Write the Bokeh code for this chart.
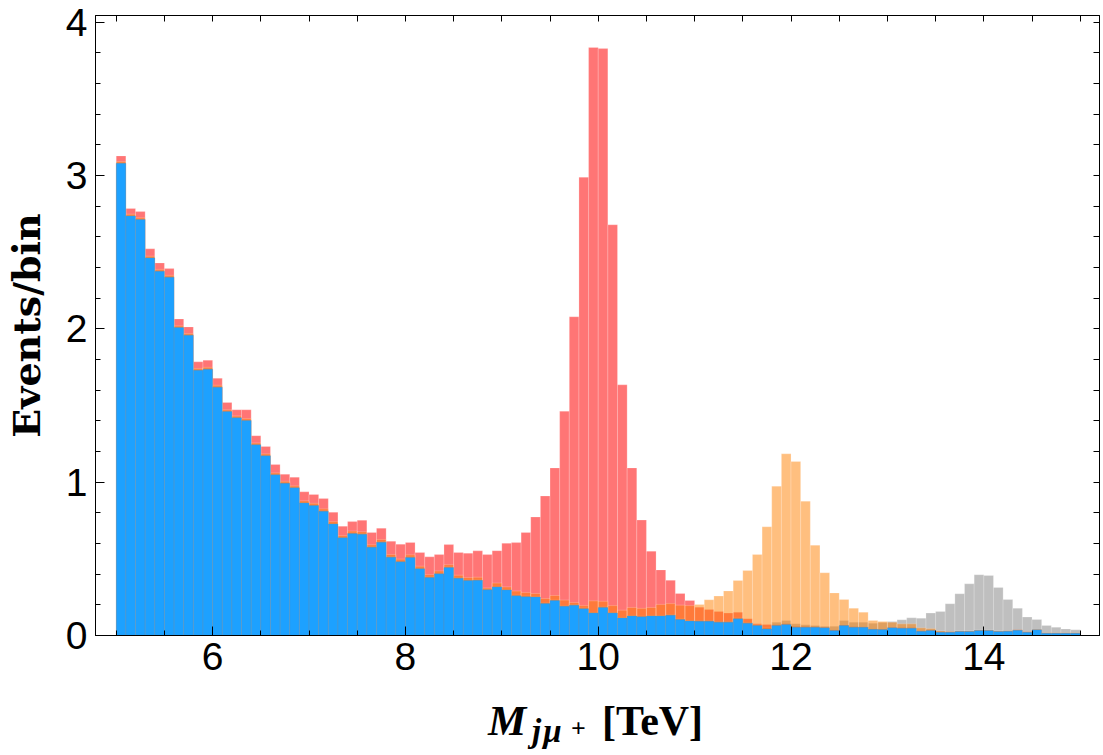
import numpy as np
from bokeh.plotting import figure
from bokeh.models import FixedTicker, LinearAxis, ColumnDataSource, Div
from bokeh.layouts import column
from bokeh.embed import file_html
from bokeh.resources import INLINE

# ---- data: events per 0.1 TeV bin, 5 -> 15 TeV (overlaid histograms, totals incl. background)
bin_lo = 5.0
bin_w = 0.1
n_bins = 100

background = [3.080, 2.737, 2.713, 2.463, 2.376, 2.337, 2.009, 1.959, 1.730, 1.737,
              1.620, 1.461, 1.420, 1.402, 1.244, 1.172, 1.048, 0.993, 0.963, 0.865,
              0.848, 0.811, 0.728, 0.637, 0.665, 0.661, 0.576, 0.609, 0.511, 0.481,
              0.509, 0.435, 0.378, 0.402, 0.443, 0.374, 0.359, 0.360, 0.298, 0.317,
              0.297, 0.259, 0.253, 0.251, 0.208, 0.228, 0.190, 0.198, 0.175, 0.147,
              0.183, 0.147, 0.114, 0.127, 0.122, 0.127, 0.127, 0.132, 0.104, 0.094,
              0.093, 0.093, 0.087, 0.087, 0.109, 0.080, 0.065, 0.043, 0.065, 0.072,
              0.054, 0.054, 0.054, 0.050, 0.033, 0.065, 0.054, 0.054, 0.040, 0.039,
              0.050, 0.048, 0.048, 0.028, 0.033, 0.022, 0.022, 0.026, 0.026, 0.033,
              0.033, 0.026, 0.028, 0.035, 0.022, 0.037, 0.015, 0.015, 0.015, 0.015]

signal_10 = [3.128, 2.785, 2.765, 2.522, 2.430, 2.393, 2.065, 2.013, 1.785, 1.796,
             1.678, 1.520, 1.472, 1.472, 1.303, 1.233, 1.115, 1.052, 1.033, 0.937,
             0.920, 0.893, 0.804, 0.713, 0.743, 0.752, 0.672, 0.700, 0.615, 0.596,
             0.607, 0.541, 0.513, 0.528, 0.593, 0.541, 0.537, 0.552, 0.528, 0.553,
             0.601, 0.606, 0.672, 0.773, 0.910, 1.093, 1.463, 2.079, 2.989, 3.835,
             3.828, 2.679, 1.635, 1.093, 0.753, 0.550, 0.428, 0.360, 0.274, 0.228,
             0.185, 0.170, 0.157, 0.146, 0.152, 0.109, 0.076, 0.072, 0.070, 0.076,
             0.058, 0.058, 0.057, 0.053, 0.036, 0.068, 0.057, 0.056, 0.042, 0.041,
             0.052, 0.050, 0.050, 0.030, 0.035, 0.024, 0.024, 0.028, 0.028, 0.035,
             0.035, 0.028, 0.030, 0.037, 0.024, 0.039, 0.017, 0.017, 0.017, 0.017]

signal_12 = [3.092, 2.748, 2.725, 2.474, 2.388, 2.349, 2.020, 1.970, 1.742, 1.749,
             1.632, 1.473, 1.432, 1.415, 1.256, 1.185, 1.061, 1.006, 0.976, 0.879,
             0.862, 0.826, 0.743, 0.652, 0.681, 0.677, 0.592, 0.626, 0.528, 0.498,
             0.526, 0.452, 0.397, 0.421, 0.462, 0.393, 0.378, 0.380, 0.310, 0.342,
             0.317, 0.290, 0.280, 0.274, 0.241, 0.261, 0.231, 0.215, 0.195, 0.226,
             0.223, 0.195, 0.165, 0.183, 0.177, 0.183, 0.203, 0.208, 0.198, 0.195,
             0.202, 0.233, 0.257, 0.291, 0.359, 0.424, 0.528, 0.709, 0.974, 1.185,
             1.135, 0.876, 0.589, 0.409, 0.278, 0.235, 0.178, 0.152, 0.098, 0.091,
             0.087, 0.076, 0.076, 0.050, 0.045, 0.030, 0.026, 0.030, 0.030, 0.036,
             0.036, 0.030, 0.031, 0.038, 0.025, 0.040, 0.018, 0.018, 0.018, 0.018]

signal_14 = [3.084, 2.741, 2.717, 2.467, 2.380, 2.341, 2.013, 1.963, 1.734, 1.741,
             1.624, 1.465, 1.424, 1.406, 1.248, 1.176, 1.052, 0.997, 0.967, 0.869,
             0.852, 0.815, 0.732, 0.641, 0.669, 0.665, 0.580, 0.613, 0.515, 0.485,
             0.513, 0.439, 0.382, 0.406, 0.447, 0.378, 0.363, 0.364, 0.302, 0.321,
             0.301, 0.263, 0.257, 0.255, 0.212, 0.232, 0.194, 0.202, 0.179, 0.151,
             0.187, 0.151, 0.118, 0.131, 0.126, 0.131, 0.131, 0.136, 0.108, 0.098,
             0.097, 0.097, 0.091, 0.091, 0.113, 0.084, 0.069, 0.050, 0.087, 0.098,
             0.076, 0.070, 0.065, 0.060, 0.060, 0.098, 0.087, 0.087, 0.080, 0.085,
             0.091, 0.102, 0.115, 0.113, 0.146, 0.157, 0.207, 0.272, 0.337, 0.396,
             0.391, 0.313, 0.235, 0.178, 0.120, 0.104, 0.065, 0.054, 0.043, 0.037]

x_major = [6, 8, 10, 12, 14]
y_major = [0, 1, 2, 3, 4]
x_minor = [5 + 0.5 * k for k in range(21)]
y_minor = [0.2 * k for k in range(21)]

edges = np.round(bin_lo + bin_w * np.arange(n_bins + 1), 3)
src = ColumnDataSource(dict(left=edges[:-1], right=edges[1:],
                            bkg=background, s10=signal_10, s12=signal_12, s14=signal_14))

p = figure(width=1103, height=700, x_range=(4.785, 15.2), y_range=(0, 4.044),
           output_backend="svg", toolbar_location=None,
           min_border_left=95, min_border_right=4, min_border_top=15, min_border_bottom=65)
p.grid.visible = False
p.outline_line_color = "black"
p.outline_line_width = 1
p.background_fill_color = "white"
p.border_fill_color = "white"

edge_kw = dict(line_color="white", line_alpha=0.35, line_width=0.6)
p.quad(left="left", right="right", bottom=0, top="s10", source=src,
       fill_color="#FF0000", fill_alpha=0.54, **edge_kw)
p.quad(left="left", right="right", bottom=0, top="s14", source=src,
       fill_color="#808080", fill_alpha=0.5, **edge_kw)
p.quad(left="left", right="right", bottom=0, top="s12", source=src,
       fill_color="#FF8000", fill_alpha=0.5, **edge_kw)
p.quad(left="left", right="right", bottom=0, top="bkg", source=src,
       fill_color="#1DA1FF", fill_alpha=1.0, line_color="#7a8a9a", line_alpha=0.45, line_width=0.6)

xt = FixedTicker(ticks=x_major, minor_ticks=x_minor)
yt = FixedTicker(ticks=y_major, minor_ticks=y_minor)

tick_font = "Liberation Sans"
for ax, tk in ((p.xaxis[0], xt), (p.yaxis[0], yt)):
    ax.ticker = tk
    ax.major_tick_in = 9
    ax.major_tick_out = 0
    ax.minor_tick_in = 5
    ax.minor_tick_out = 0
    ax.axis_line_color = "black"
    ax.major_tick_line_color = "black"
    ax.minor_tick_line_color = "black"
    ax.major_label_text_font = tick_font
    ax.major_label_text_font_size = "39px"
    ax.major_label_text_color = "black"

p.xaxis[0].major_label_standoff = 7
p.yaxis[0].major_label_standoff = 8
p.yaxis[0].axis_label = "Events/bin"
p.yaxis[0].axis_label_text_font = "DejaVu Serif"
p.yaxis[0].axis_label_text_font_style = "bold"
p.yaxis[0].axis_label_text_font_size = "38px"
p.yaxis[0].axis_label_text_color = "black"
p.yaxis[0].axis_label_standoff = 14

# mirrored ticks on the top and right frame edges (no labels)
for loc, tk in (("above", FixedTicker(ticks=[], minor_ticks=x_minor)),
                ("right", FixedTicker(ticks=[], minor_ticks=y_minor))):
    ax = LinearAxis(ticker=tk, major_label_standoff=0, axis_line_color="black",
                    major_tick_in=0, major_tick_out=0, minor_tick_in=6, minor_tick_out=0)
    p.add_layout(ax, loc)

# x-axis title: M_{j mu^+} [TeV]
xlabel_html = (
    '<div style="position:relative;width:1103px;height:55px;margin:0;padding:0;'
    'font-family:\'Liberation Serif\',serif;color:black;line-height:1;white-space:nowrap;">'
    '<span style="position:absolute;left:488px;top:-1px;font-size:43px;font-weight:bold;font-style:italic;">M</span>'
    '<span style="position:absolute;left:532px;top:15px;font-size:33px;font-weight:bold;font-style:italic;letter-spacing:2px;">jμ</span>'
    '<span style="position:absolute;left:571px;top:16px;font-size:26px;font-weight:bold;">+</span>'
    '<span style="position:absolute;left:602px;top:0px;font-size:42px;font-weight:bold;">[TeV]</span>'
    '</div>'
)
xlabel = Div(text=xlabel_html, width=1103, height=55, margin=0)

layout = column(p, xlabel, spacing=0, margin=0)
open("out.html", "w").write(file_html(layout, INLINE))
